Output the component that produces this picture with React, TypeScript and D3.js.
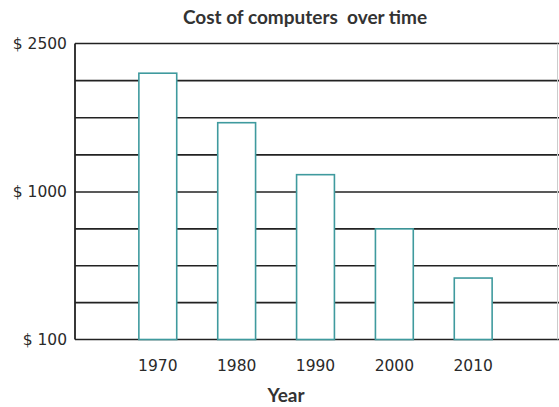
import React from "react";
import * as d3 from "d3";

const years = ["1970", "1980", "1990", "2000", "2010"];
const costs = [2200, 1700, 1175, 775, 475];
const gridValues = [100, 325, 550, 775, 1000, 1375, 1750, 2125, 2500];
const tickValues = [100, 1000, 2500];
const tickLabels = ["$ 100", "$ 1000", "$ 2500"];
const title = "Cost of computers  over time";
const xTitle = "Year";

const W = 559;
const H = 407;
const left = 75;
const right = 556;
const top = 43.5;
const bottom = 339.5;

export default function App() {
  const x = d3
    .scaleBand<string>()
    .domain(years)
    .range([left, right])
    .paddingInner(0.52)
    .paddingOuter(0.81);
  const y = d3
    .scaleLinear()
    .domain([100, 1000, 2500])
    .range([bottom, 192, top]);

  return (
    <svg
      width={W}
      height={H}
      style={{ position: "fixed", left: 0, top: 0, background: "#fff" }}
    >
      <rect x={0} y={0} width={W} height={H} fill="#fff" />
      <text
        x={305}
        y={24}
        textAnchor="middle"
        fontFamily="Lato, 'Open Sans', sans-serif"
        fontWeight="bold"
        fontSize={19}
        fill="#333"
        style={{ whiteSpace: "pre" }}
      >
        {title}
      </text>
      {gridValues.map((v) => (
        <line
          key={v}
          x1={left}
          x2={W}
          y1={y(v)}
          y2={y(v)}
          stroke="#222"
          strokeWidth={1.6}
        />
      ))}
      <line x1={left} x2={left} y1={top} y2={bottom} stroke="#222" strokeWidth={1.8} />
      <line x1={557.5} x2={557.5} y1={top} y2={bottom} stroke="#ccc" strokeWidth={1} />
      {years.map((yr, i) => (
        <rect
          key={yr}
          x={x(yr)}
          y={y(costs[i])}
          width={x.bandwidth()}
          height={bottom - y(costs[i])}
          fill="#fff"
          stroke="#3f9a9e"
          strokeWidth={1.6}
        />
      ))}
      {tickValues.map((v, i) => (
        <text
          key={v}
          x={67}
          y={y(v)}
          dy="0.35em"
          textAnchor="end"
          fontFamily="'DejaVu Sans', sans-serif"
          fontSize={15.5}
          fill="#2a2a2a"
        >
          {tickLabels[i]}
        </text>
      ))}
      {years.map((yr) => (
        <text
          key={yr}
          x={(x(yr) as number) + x.bandwidth() / 2}
          y={366}
          dy="0.35em"
          textAnchor="middle"
          fontFamily="'DejaVu Sans', sans-serif"
          fontSize={15.5}
          fill="#2a2a2a"
        >
          {yr}
        </text>
      ))}
      <text
        x={286}
        y={395}
        dy="0.35em"
        textAnchor="middle"
        fontFamily="Lato, 'Open Sans', sans-serif"
        fontWeight="bold"
        fontSize={19}
        fill="#333"
      >
        {xTitle}
      </text>
    </svg>
  );
}
